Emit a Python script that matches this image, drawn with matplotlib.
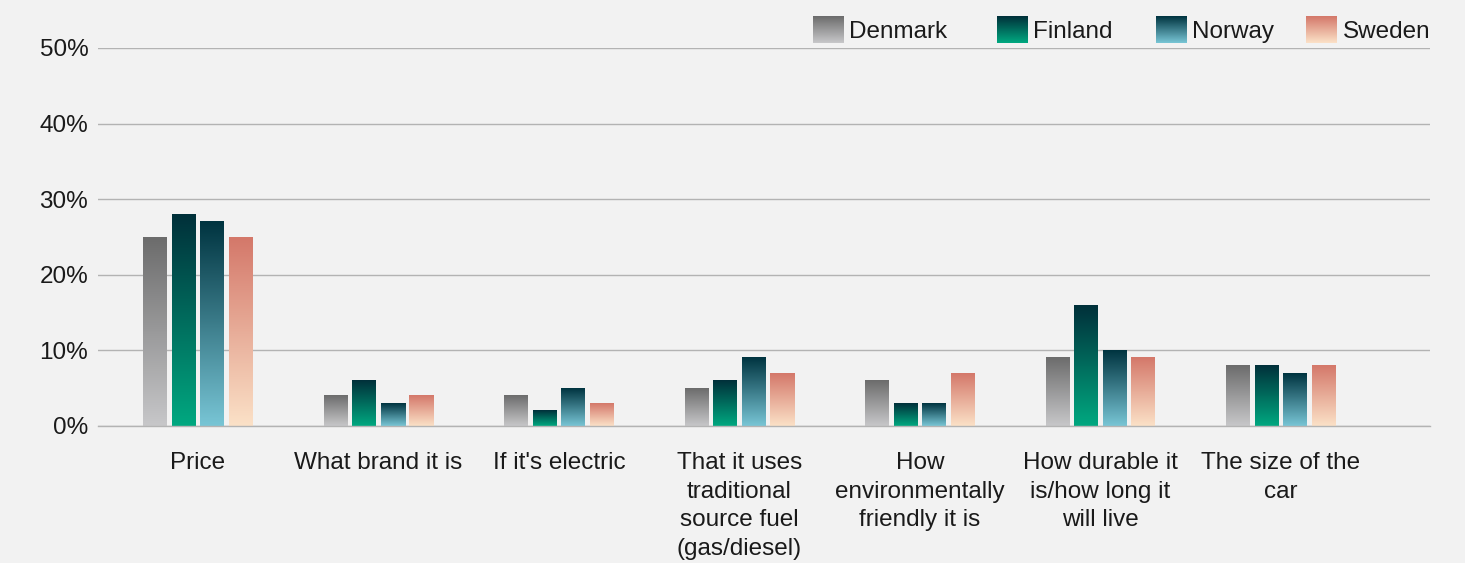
import numpy as np
import matplotlib
matplotlib.use("Agg")
import matplotlib.pyplot as plt
from matplotlib.colors import LinearSegmentedColormap
from matplotlib.patches import Patch
from matplotlib.legend_handler import HandlerBase
from matplotlib.image import BboxImage
from matplotlib.transforms import Bbox, TransformedBbox

# ==================================================
# DADOS
# ==================================================
categorias = [
    "Price",
    "What brand it is",
    "If it's electric",
    "That it uses\ntraditional\nsource fuel\n(gas/diesel)",
    "How\nenvironmentally\nfriendly it is",
    "How durable it\nis/how long it\nwill live",
    "The size of the\ncar",
]
paises = ["Denmark", "Finland", "Norway", "Sweden"]

denmark = [25, 4, 4, 5, 6, 9, 8]
finland = [28, 6, 2, 6, 3, 16, 8]
norway = [27, 3, 5, 9, 3, 10, 7]
sweden = [25, 4, 3, 7, 7, 9, 8]
valores = [denmark, finland, norway, sweden]

yticks = [0, 10, 20, 30, 40, 50]

# gradientes (base -> topo)
cores = [
    ("#c7c7c9", "#6c6c6c"),
    ("#00a880", "#00303a"),
    ("#78c5d5", "#003440"),
    ("#fbe1c7", "#d4786a"),
]
cmaps = [LinearSegmentedColormap.from_list(p, c) for p, c in zip(paises, cores)]

# posicao horizontal (px) do quadrado de cada item da legenda
LEGENDA_X = [813, 997, 1156, 1306]

FUNDO = "#f2f2f2"
TEXTO = "#1a1a1a"
FONTE = 17.5
W, H = 1465, 563
ESCALA = 180.5  # px por categoria
plt.rcParams["font.family"] = ["Liberation Sans", "DejaVu Sans"]


class HandlerGradiente(HandlerBase):
    def __init__(self, cmap):
        super().__init__()
        self.cmap = cmap

    def create_artists(self, legend, orig_handle, xdescent, ydescent,
                       width, height, fontsize, trans):
        bb = TransformedBbox(Bbox.from_bounds(-xdescent, -ydescent, width, height), trans)
        img = BboxImage(bb, cmap=self.cmap, interpolation="bilinear")
        img.set_data(np.linspace(1, 0, 64).reshape(-1, 1))
        return [img]


fig = plt.figure(figsize=(W / 100, H / 100), dpi=100, facecolor=FUNDO)
ax = fig.add_axes([98 / W, 1 - 426 / H, (1430 - 98) / W, (426 - 48) / H])
ax.set_facecolor(FUNDO)

x = np.arange(len(categorias))
passo = 28.6 / ESCALA
largura = 24 / ESCALA
grad = np.linspace(0, 1, 128).reshape(-1, 1)

for i, (vals, cmap) in enumerate(zip(valores, cmaps)):
    barras = ax.bar(x + (i - 1.5) * passo, vals, largura, color="none", zorder=2)
    for r in barras:
        x0, y0, w, h = r.get_x(), r.get_y(), r.get_width(), r.get_height()
        ax.imshow(grad, cmap=cmap, extent=[x0, x0 + w, y0, y0 + h],
                  origin="lower", aspect="auto", interpolation="bilinear", zorder=3)

ax.set_xlim(-100 / ESCALA, 1232 / ESCALA)
ax.set_ylim(0, 50)
ax.set_aspect("auto")

ax.set_yticks(yticks)
ax.set_yticklabels([f"{v}%" for v in yticks])
ax.set_xticks(x)
ax.set_xticklabels(categorias, linespacing=1.38)
ax.tick_params(axis="both", length=0, labelsize=FONTE, colors=TEXTO)
ax.tick_params(axis="y", pad=7)
ax.tick_params(axis="x", pad=19)

ax.grid(axis="y", color="#b3b3b3", linewidth=1.0, zorder=0)
ax.axhline(0, color="#b3b3b3", linewidth=1.0, zorder=4, clip_on=False)
for s in ax.spines.values():
    s.set_visible(False)

# legenda: um item por vez, cada um na sua posicao
for nome, cmap, px in zip(paises, cmaps, LEGENDA_X):
    h = Patch(label=nome)
    fig.legend(handles=[h], handler_map={h: HandlerGradiente(cmap)},
               loc="center left", bbox_to_anchor=(px / W, 1 - 30 / H),
               frameon=False, fontsize=FONTE,
               handlelength=1.25, handleheight=1.3, handletextpad=0.25,
               borderpad=0, borderaxespad=0, labelcolor=TEXTO)

fig.savefig("out.png", dpi=100, facecolor=FUNDO)
